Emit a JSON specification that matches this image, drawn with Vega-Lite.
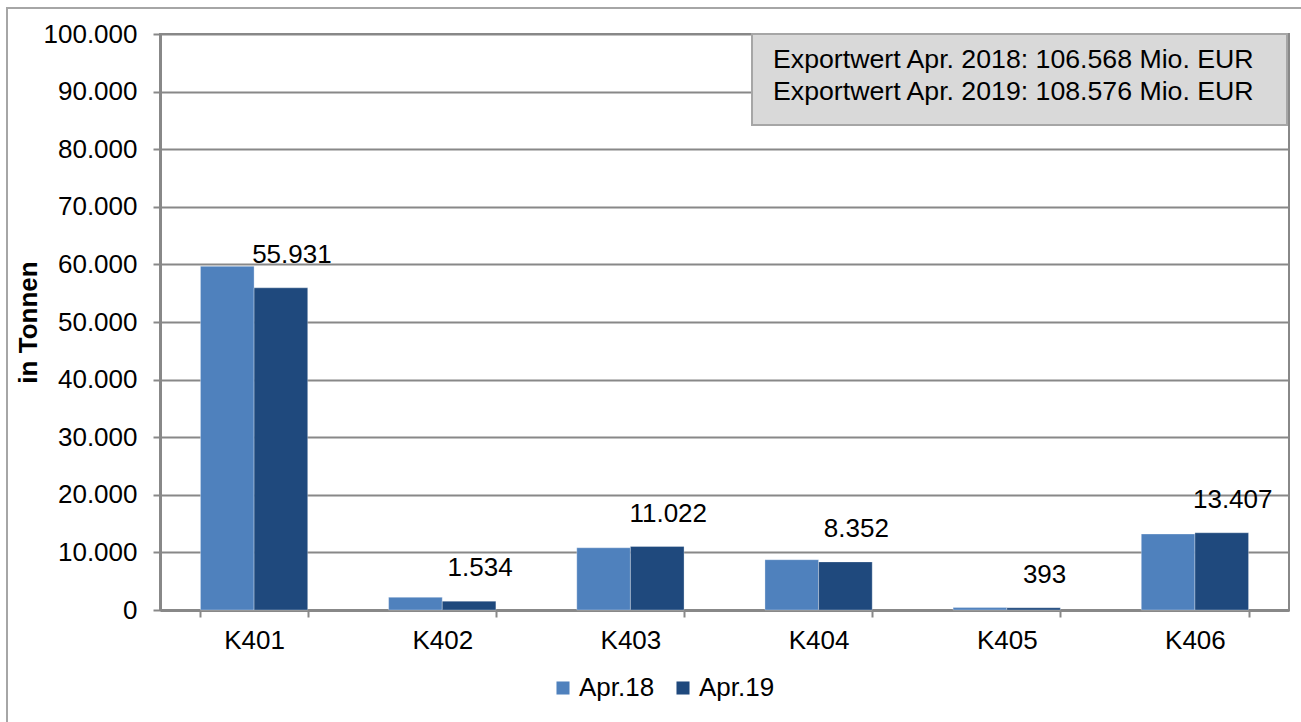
{
  "$schema": "https://vega.github.io/schema/vega-lite/v6.json",
  "width": 1129,
  "height": 576,
  "autosize": {"type": "none"},
  "padding": {"left": 160, "top": 34, "right": 12, "bottom": 112},
  "background": "white",
  "config": {
    "locale": {"number": {"decimal": ",", "thousands": ".", "grouping": [3], "currency": ["", " €"]}},
    "font": "Liberation Sans",
    "view": {"stroke": "#888888", "strokeWidth": 2},
    "axis": {"labelFont": "Liberation Sans", "titleFont": "Liberation Sans", "labelColor": "#000000", "titleColor": "#000000", "labelFontSize": 26, "titleFontSize": 26}
  },
  "datasets": {
    "bars": [
      {"kat": "K401", "monat": "Apr.18", "tonnen": 59660},
      {"kat": "K401", "monat": "Apr.19", "tonnen": 55931},
      {"kat": "K402", "monat": "Apr.18", "tonnen": 2200},
      {"kat": "K402", "monat": "Apr.19", "tonnen": 1534},
      {"kat": "K403", "monat": "Apr.18", "tonnen": 10800},
      {"kat": "K403", "monat": "Apr.19", "tonnen": 11022},
      {"kat": "K404", "monat": "Apr.18", "tonnen": 8730},
      {"kat": "K404", "monat": "Apr.19", "tonnen": 8352},
      {"kat": "K405", "monat": "Apr.18", "tonnen": 420},
      {"kat": "K405", "monat": "Apr.19", "tonnen": 393},
      {"kat": "K406", "monat": "Apr.18", "tonnen": 13190},
      {"kat": "K406", "monat": "Apr.19", "tonnen": 13407}
    ]
  },
  "data": {"name": "bars"},
  "layer": [
    {
      "mark": {"type": "rect", "fill": "#ffffff", "fillOpacity": 0, "stroke": "#a6a6a6", "strokeWidth": 2, "clip": false},
      "data": {"values": [{}]},
      "encoding": {
        "x": {"value": -153}, "x2": {"value": 1200},
        "y": {"value": -26}, "y2": {"value": 700}
      }
    },
    {
      "mark": {"type": "bar", "stroke": "#ffffff", "strokeWidth": 0.5, "strokeOpacity": 0.6},
      "encoding": {
        "x": {
          "field": "kat", "type": "nominal",
          "scale": {"paddingInner": 0.43, "paddingOuter": 0.215},
          "axis": {"title": null, "labelAngle": 0, "tickBand": "extent", "tickSize": 7, "tickColor": "#888888", "tickWidth": 2, "domainColor": "#888888", "domainWidth": 3, "labelPadding": 10, "grid": false}
        },
        "xOffset": {"field": "monat", "type": "nominal"},
        "y": {
          "field": "tonnen", "type": "quantitative",
          "scale": {"domain": [0, 100000], "nice": false},
          "axis": {"title": "in Tonnen", "titleFontWeight": "bold", "titlePadding": 2, "format": ",.0f", "values": [0,10000,20000,30000,40000,50000,60000,70000,80000,90000,100000], "tickSize": 7, "tickColor": "#888888", "tickWidth": 2, "domainColor": "#888888", "domainWidth": 3, "labelPadding": 16, "gridColor": "#888888", "gridWidth": 2}
        },
        "color": {
          "field": "monat", "type": "nominal",
          "scale": {"domain": ["Apr.18", "Apr.19"], "range": ["#4f81bd", "#1f497d"]},
          "legend": {"title": null, "orient": "none", "direction": "horizontal", "legendX": 390, "legendY": 641, "symbolType": "square", "symbolSize": 170, "symbolStrokeWidth": 0, "labelFontSize": 26, "labelFont": "Liberation Sans", "labelColor": "#000000", "labelOffset": 3, "columnPadding": 15}
        }
      }
    },
    {
      "transform": [{"filter": "datum.monat === 'Apr.19'"}],
      "mark": {"type": "text", "fontSize": 26, "font": "Liberation Sans", "color": "#000000", "baseline": "middle", "dy": -33, "dx": 11},
      "encoding": {
        "x": {"field": "kat", "type": "nominal"},
        "xOffset": {"field": "monat", "type": "nominal", "scale": {"domain": ["Apr.18", "Apr.19"]}},
        "y": {"field": "tonnen", "type": "quantitative"},
        "text": {"field": "tonnen", "type": "quantitative", "format": ",.0f"}
      }
    },
    {
      "data": {"values": [{}]},
      "mark": {"type": "rect", "fill": "#d9d9d9", "stroke": "#a6a6a6", "strokeWidth": 2},
      "encoding": {
        "x": {"value": 592}, "x2": {"value": 1127},
        "y": {"datum": 100000, "type": "quantitative"}, "y2": {"datum": 84200}
      }
    },
    {
      "data": {"values": [{}]},
      "mark": {"type": "text", "fontSize": 26.7, "font": "Liberation Sans", "color": "#000000", "align": "left", "baseline": "middle", "lineHeight": 32},
      "encoding": {
        "x": {"value": 613},
        "y": {"datum": 95500, "type": "quantitative"},
        "text": {"value": ["Exportwert Apr. 2018: 106.568 Mio. EUR", "Exportwert Apr. 2019: 108.576 Mio. EUR"]}
      }
    }
  ]
}
